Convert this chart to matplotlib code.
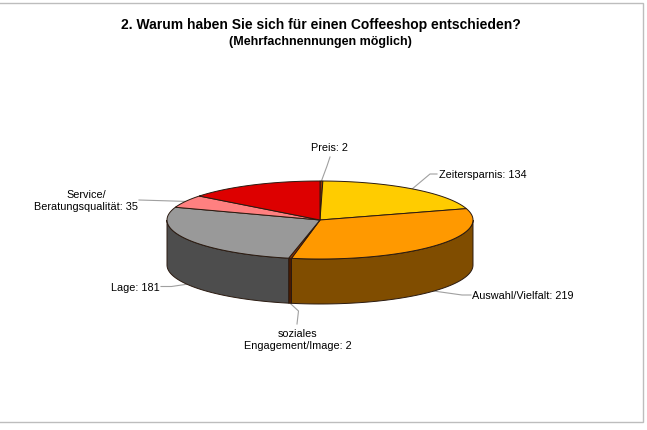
import numpy as np
import matplotlib
matplotlib.use("Agg")
import matplotlib.pyplot as plt
from matplotlib.patches import Polygon, Rectangle

plt.rcParams['font.family'] = ['Liberation Sans', 'DejaVu Sans']

# ---- data ----
categories = ["Preis", "Zeitersparnis", "Auswahl/Vielfalt",
              "soziales\nEngagement/Image", "Lage",
              "Service/\nBeratungsqualität", ""]
values = [2, 134, 219, 2, 181, 35, 97]
top_colors = ["#993300", "#FFCC00", "#FF9900", "#993300", "#999999", "#FF8080", "#DD0000"]
title_line1 = "2. Warum haben Sie sich für einen Coffeeshop entschieden?"
title_line2 = "(Mehrfachnennungen möglich)"

# ---- layout (pixel space) ----
W, H = 647, 431
cx, cy, a, b, depth = 320, 221, 153, 39, 45

fig = plt.figure(figsize=(W / 100, H / 100), dpi=100)
ax = fig.add_axes([0, 0, 1, 1])
ax.set_xlim(0, W)
ax.set_ylim(H, 0)
ax.axis("off")

ax.add_patch(Rectangle((-2, 4), 644.5, 419.5, fill=False, edgecolor="#BDBDBD", lw=1.0))

vals = np.array(values, dtype=float)
total = vals.sum()
cum = np.concatenate([[0], np.cumsum(vals)])
theta_start = 90 - cum[:-1] / total * 360   # degrees, clockwise on screen
theta_end = 90 - cum[1:] / total * 360

def pt(theta_deg, dz=0.0):
    t = np.deg2rad(theta_deg)
    return cx + a * np.cos(t), cy - b * np.sin(t) + dz

def darker(hexcol, f=0.5):
    return np.array(matplotlib.colors.to_rgb(hexcol)) * f

edge = "#2a1a10"
lw = 0.7

# side walls (front half: theta in [-180, 0])
for i in range(len(vals)):
    hi, lo = theta_start[i], theta_end[i]
    h2, l2 = min(hi, 0), max(lo, -180)
    if h2 <= l2:
        continue
    ts = np.linspace(h2, l2, 60)
    xs, ys = pt(ts)
    xb, yb = pt(ts[::-1], depth)
    poly = np.column_stack([np.concatenate([xs, xb]), np.concatenate([ys, yb])])
    ax.add_patch(Polygon(poly, closed=True, facecolor=darker(top_colors[i]),
                         edgecolor=edge, lw=lw, zorder=2))

# top faces
for i in range(len(vals)):
    ts = np.linspace(theta_start[i], theta_end[i], 80)
    xs, ys = pt(ts)
    poly = np.column_stack([np.concatenate([[cx], xs]), np.concatenate([[cy], ys])])
    ax.add_patch(Polygon(poly, closed=True, facecolor=top_colors[i],
                         edgecolor=edge, lw=lw, zorder=3))

# labels with leader lines
fs = 7.8
label_cfg = {
    0: ((329, 148), "center", "center", [(330, 158), (327, 167)]),
    1: ((439, 175), "left", "center", [(437, 175), (430, 175)]),
    2: ((472.5, 296), "left", "center", [(471, 296), (462, 296)]),
    3: ((298, 340), "center", "center", [(297, 325), (298.5, 312)]),
    4: ((159.5, 288), "right", "center", [(161, 287.5), (171.5, 287.5)]),
    5: ((86, 200.7), "center", "center", [(139, 201)]),
}
for i, (xy, ha, va, path) in label_cfg.items():
    mid = (theta_start[i] + theta_end[i]) / 2
    s = np.sin(np.deg2rad(mid))
    ax_, ay_ = pt(mid, depth if s < 0 else 0)
    px = [p[0] for p in path] + [ax_]
    py = [p[1] for p in path] + [ay_]
    ax.plot(px, py, color="#A0A0A0", lw=0.8, zorder=1)
    ax.text(xy[0], xy[1], f"{categories[i]}: {values[i]}", ha=ha, va=va,
            fontsize=fs, color="black", multialignment="center", linespacing=1.25, zorder=5)

ax.text(320.5, 25, title_line1, ha="center", va="center", fontsize=10, fontweight="bold")
ax.text(320, 41.5, title_line2, ha="center", va="center", fontsize=9, fontweight="bold")

fig.savefig("out.png", dpi=100)
